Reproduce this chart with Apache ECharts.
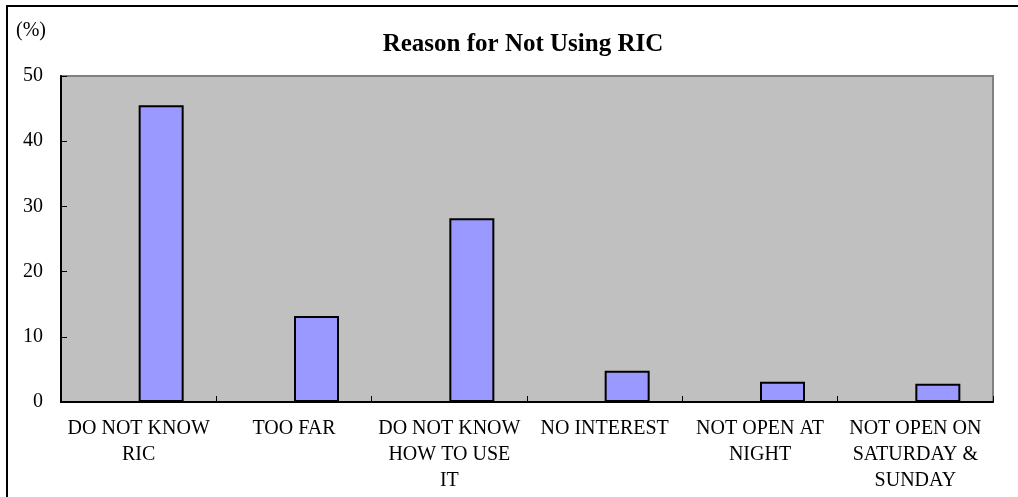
<!DOCTYPE html>
<html>
<head>
<meta charset="utf-8">
<script src="https://cdn.jsdelivr.net/npm/echarts@6/dist/echarts.min.js"></script>
<style>
  html, body { margin: 0; padding: 0; background: #ffffff; }
  #chart { width: 1018px; height: 497px; }
</style>
</head>
<body>
<div id="chart"></div>
<script>
// Survey: reasons given for not using the RIC (percent of respondents)
const categories = [
  'DO NOT KNOW\nRIC',
  'TOO FAR',
  'DO NOT KNOW\nHOW TO USE\nIT',
  'NO INTEREST',
  'NOT OPEN AT\nNIGHT',
  'NOT OPEN ON\nSATURDAY &\nSUNDAY'
];
const percentValues = [45.5, 13.2, 28.2, 4.8, 3.1, 2.8];
const emptyValues = [null, null, null, null, null, null];
const yTicks = { min: 0, max: 50, interval: 10 };

const serif = "'Liberation Serif', 'Times New Roman', serif";

const chart = echarts.init(document.getElementById('chart'), null, { renderer: 'canvas' });

chart.setOption({
  backgroundColor: '#ffffff',
  animation: false,
  textStyle: { fontFamily: serif, color: '#000' },
  graphic: [
    {
      type: 'rect',
      shape: { x: 7, y: 6, width: 1100, height: 600 },
      style: { fill: 'none', stroke: '#000', lineWidth: 2 },
      silent: true
    },
    {
      type: 'text',
      x: 523, y: 45,
      style: {
        text: 'Reason for Not Using RIC',
        font: 'bold 25px ' + serif,
        fill: '#000',
        textAlign: 'center',
        textVerticalAlign: 'middle'
      }
    },
    {
      type: 'text',
      x: 16, y: 31,
      style: {
        text: '(%)',
        font: '20px ' + serif,
        fill: '#000',
        textAlign: 'left',
        textVerticalAlign: 'middle'
      }
    }
  ],
  grid: {
    left: 61, top: 76, right: 25, bottom: 95,
    show: true,
    backgroundColor: '#C0C0C0',
    borderColor: '#808080',
    borderWidth: 2
  },
  xAxis: {
    type: 'category',
    data: categories,
    boundaryGap: true,
    axisLine: { show: true, lineStyle: { color: '#000', width: 2 } },
    axisTick: { show: true, inside: true, length: 6, lineStyle: { color: '#000', width: 1 } },
    axisLabel: {
      interval: 0,
      margin: 14,
      fontSize: 20,
      lineHeight: 26,
      fontFamily: serif,
      color: '#000',
      align: 'center'
    },
    splitLine: { show: false }
  },
  yAxis: {
    type: 'value',
    min: yTicks.min,
    max: yTicks.max,
    interval: yTicks.interval,
    axisLine: { show: true, lineStyle: { color: '#000', width: 2 } },
    axisTick: { show: true, inside: true, length: 6, lineStyle: { color: '#000', width: 1 } },
    axisLabel: { margin: 18, fontSize: 20, fontFamily: serif, color: '#000' },
    splitLine: { show: false }
  },
  series: [
    {
      name: 'blank',
      type: 'bar',
      data: emptyValues,
      barWidth: 45,
      barGap: '0%',
      silent: true
    },
    {
      name: 'Reason',
      type: 'bar',
      data: percentValues,
      barWidth: 45,
      barGap: '0%',
      itemStyle: { color: '#9999FF', borderColor: '#000', borderWidth: 2 }
    }
  ]
});
</script>
</body>
</html>
